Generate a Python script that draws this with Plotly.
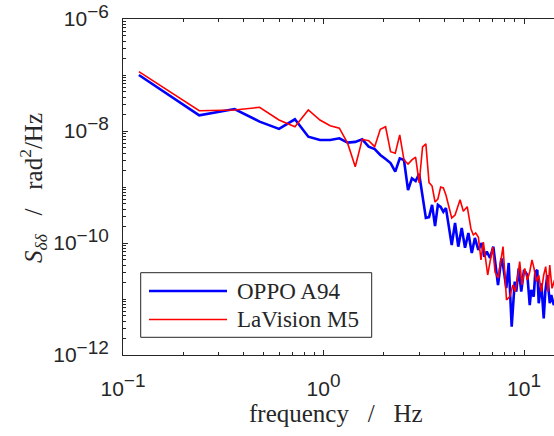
import plotly.graph_objects as go

# ---------------- data ----------------
series_names = ["OPPO A94", "LaVision M5"]
series_colors = ["#0000ff", "#ff0000"]
series_widths = [2.6, 1.6]

freq_oppo = [0.12, 0.24, 0.36, 0.48, 0.60, 0.72, 0.84, 0.96, 1.08, 1.20,
             1.32, 1.44, 1.56, 1.68, 1.80, 1.92, 2.04, 2.16, 2.28, 2.40,
             2.52, 2.64, 2.76, 2.88, 3.00, 3.12, 3.24, 3.36, 3.48, 3.60,
             3.72, 3.84, 3.96, 4.08, 4.36, 4.53, 4.70, 4.89, 5.08, 5.28,
             5.49, 5.69, 5.92, 6.15, 6.34, 6.52, 6.77, 7.03, 7.31, 7.42,
             7.71, 7.86, 8.16, 8.39, 8.68, 8.99, 9.15, 9.41, 9.69, 10.0,
             10.39, 10.68, 10.87, 11.18, 11.39, 11.65, 11.84, 12.20, 12.54, 12.77,
             13.07, 13.44, 13.68, 14.07, 14.4]
psd_oppo = [1.0e-7, 1.9e-8, 2.47e-8, 1.47e-8, 1.09e-8, 1.62e-8, 7.9e-9, 6.9e-9, 6.9e-9, 7.4e-9,
            6.2e-9, 6.4e-9, 7.1e-9, 5.25e-9, 4.77e-9, 3.73e-9, 3.16e-9, 2.68e-9, 1.88e-9, 3.25e-9,
            3.04e-9, 8.8e-10, 1.43e-9, 1.28e-9, 1.71e-9, 6.6e-10, 2.8e-10, 2.9e-10, 4.8e-10, 2.0e-10,
            4.8e-10, 4.4e-10, 3.6e-10, 4.2e-10, 9.2e-11, 2.28e-10, 8.6e-11, 1.85e-10, 8.2e-11, 1.51e-10,
            6.6e-11, 1.23e-10, 7.5e-11, 1.0e-10, 5.7e-11, 7.0e-11, 5.4e-11, 8.6e-11, 2.34e-11, 1.78e-11,
            5.3e-11, 4.05e-11, 1.57e-11, 4.4e-11, 3.2e-12, 2.04e-11, 1.35e-11, 3.53e-11, 1.35e-11, 3.3e-11,
            2.68e-11, 7.8e-12, 1.45e-11, 1.1e-11, 3.07e-11, 3.3e-11, 8.4e-12, 1.9e-11, 4.5e-12, 1.35e-11,
            2.68e-11, 8.4e-12, 1.18e-11, 7.8e-12, 1.0e-11]

freq_lavision = [0.12, 0.24, 0.36, 0.48, 0.60, 0.72, 0.84, 0.96, 1.08, 1.20,
                 1.32, 1.44, 1.56, 1.68, 1.80, 1.92, 2.04, 2.16, 2.28, 2.40,
                 2.52, 2.64, 2.76, 2.88, 3.00, 3.12, 3.24, 3.36, 3.48, 3.60,
                 3.72, 3.84, 3.96, 4.08, 4.36, 4.53, 4.80, 4.98, 5.21, 5.44,
                 5.59, 5.74, 5.92, 6.10, 6.27, 6.59, 6.77, 6.98, 7.17, 7.44,
                 7.56, 7.86, 8.18, 8.48, 8.81, 9.05, 9.33, 9.52, 9.77, 10.08,
                 10.39, 10.68, 10.96, 11.22, 11.52, 11.84, 12.20, 12.54, 12.83, 13.18,
                 13.44, 13.79, 14.11, 14.4]
psd_lavision = [1.15e-7, 2.3e-8, 2.37e-8, 2.65e-8, 1.57e-8, 1.19e-8, 2.37e-8, 1.57e-8, 1.24e-8, 1.12e-8,
                6.0e-9, 2.3e-9, 7.1e-9, 6.7e-9, 5.25e-9, 1.07e-8, 1.19e-8, 4.27e-9, 4.0e-9, 8.5e-9,
                3.04e-9, 2.57e-9, 3.04e-9, 3.43e-9, 1.18e-9, 5.2e-9, 5.9e-9, 1.2e-9, 1.04e-9, 5.4e-10,
                6.1e-10, 1.0e-9, 9.6e-10, 7.2e-10, 2.8e-10, 3.16e-10, 5.9e-10, 3.7e-10, 4.45e-10, 1.78e-10,
                1.39e-10, 1.51e-10, 1.28e-10, 5.0e-11, 1.04e-10, 2.68e-11, 4.6e-11, 8.5e-11, 3.03e-11, 2.37e-11,
                3.58e-11, 8.6e-11, 9.6e-12, 1.1e-11, 1.78e-11, 1.35e-11, 2.68e-11, 4.64e-11, 1.78e-11, 3.53e-11,
                2.18e-11, 3.07e-11, 5.0e-11, 3.53e-11, 2.04e-11, 2.68e-11, 1.35e-11, 2.68e-11, 3.78e-11, 1.35e-11,
                4.05e-11, 1.55e-11, 2.04e-11, 2.5e-11]

x_tick_vals = [0.1, 1, 10]
x_tick_exp = ["\u22121", "0", "1"]
y_tick_vals = [1e-12, 1e-10, 1e-8, 1e-6]
y_tick_exp = ["\u221212", "\u221210", "\u22128", "\u22126"]

def sci_label(e):
    return "10<sup><span style='font-size:19px'>" + e + "</span></sup>"

x_tick_text = [sci_label(e) for e in x_tick_exp]
y_tick_text = [sci_label(e) for e in y_tick_exp]

x_minor = [m * d for d in (0.1, 1, 10) for m in range(2, 10)]
y_minor = [m * d for d in (1e-12, 1e-11, 1e-10, 1e-9, 1e-8, 1e-7) for m in range(1, 10)]
y_minor = [v for v in y_minor if v not in y_tick_vals]

# ---------------- figure ----------------
W, H = 554, 436
ML, MR, MT, MB = 123, 0, 19, 81
PW, PH = W - ML - MR, H - MT - MB

fig = go.Figure()
for xs, ys, name, col, lw in zip([freq_oppo, freq_lavision], [psd_oppo, psd_lavision],
                                  series_names, series_colors, series_widths):
    fig.add_trace(go.Scatter(x=xs, y=ys, mode="lines", name=name,
                             line=dict(color=col, width=lw), showlegend=False))

axis_col = "#262626"
tick_font = dict(family="Liberation Sans, Arial, sans-serif", size=21, color=axis_col)

fig.update_layout(
    width=W, height=H,
    margin=dict(l=ML, r=MR, t=MT, b=MB, pad=0),
    paper_bgcolor="white", plot_bgcolor="white",
    xaxis=dict(type="log", range=[-1, 1.1496], showgrid=False, zeroline=False,
               showline=True, linecolor=axis_col, linewidth=1, mirror="ticks",
               ticks="inside", ticklen=5, tickcolor=axis_col, tickwidth=1,
               tickmode="array", tickvals=x_tick_vals, ticktext=x_tick_text,
               tickfont=tick_font, ticklabelstandoff=15,
               minor=dict(tickmode="array", tickvals=x_minor, ticks="inside",
                          ticklen=3, tickcolor=axis_col, showgrid=False)),
    yaxis=dict(type="log", range=[-12, -6], showgrid=False, zeroline=False,
               showline=True, linecolor=axis_col, linewidth=1, mirror=False,
               ticks="inside", ticklen=5, tickcolor=axis_col, tickwidth=1,
               tickmode="array", tickvals=y_tick_vals, ticktext=y_tick_text,
               tickfont=tick_font, ticklabelstandoff=9,
               minor=dict(tickmode="array", tickvals=y_minor, ticks="inside",
                          ticklen=3, tickcolor=axis_col, showgrid=False)),
)

def px_x(p):
    return (p - ML) / PW

def px_y(p):
    return (MT + PH - p) / PH

serif = "Liberation Serif, Times New Roman, serif"
sp = "&nbsp;" * 3

# axis titles
fig.add_annotation(text="frequency" + sp + "/" + sp + "Hz", xref="paper", yref="paper",
                   x=px_x(336), y=px_y(413), showarrow=False,
                   font=dict(family=serif, size=25, color=axis_col),
                   xanchor="center", yanchor="middle")
fig.add_annotation(text="<i>S</i><sub><i>δδ</i></sub>" + sp + "/" + sp + "rad<sup>2</sup>/Hz",
                   xref="paper", yref="paper", x=px_x(33), y=px_y(188), showarrow=False,
                   textangle=-90, font=dict(family=serif, size=25, color=axis_col),
                   xanchor="center", yanchor="middle")

# legend box (drawn manually to match the long line samples)
fig.add_shape(type="rect", xref="paper", yref="paper",
              x0=px_x(140.7), x1=px_x(371.7), y0=px_y(337.3), y1=px_y(272.7),
              line=dict(color=axis_col, width=1), fillcolor="white", layer="above")
for i, (name, col, lw) in enumerate(zip(series_names, series_colors, series_widths)):
    yy = px_y(291 + 28.5 * i)
    fig.add_shape(type="line", xref="paper", yref="paper",
                  x0=px_x(149), x1=px_x(227), y0=yy, y1=yy,
                  line=dict(color=col, width=lw), layer="above")
    fig.add_annotation(text=name, xref="paper", yref="paper", x=px_x(235), y=yy,
                       showarrow=False, xanchor="left", yanchor="middle",
                       font=dict(family=serif, size=23, color=axis_col))

fig.write_html("out.html", config={"displayModeBar": False},
               post_script="document.body.style.margin='0';document.body.style.overflow='hidden';")
